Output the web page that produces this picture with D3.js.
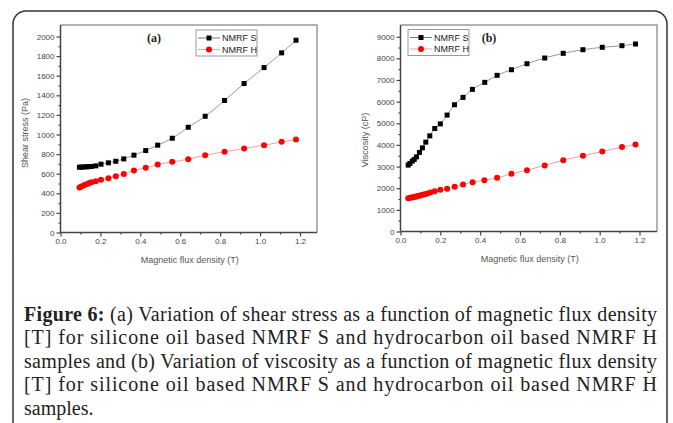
<!DOCTYPE html>
<html>
<head>
<meta charset="utf-8">
<script src="https://cdn.jsdelivr.net/npm/d3@7"></script>
<style>
  body { margin: 0; background: #fff; }
  svg { display: block; }
  .tick text { font-family: "Liberation Sans", Arial, sans-serif; font-size: 8px; fill: #444; }
</style>
</head>
<body>
<div id="fig"></div>
<script>
// Data
// (a) shear stress vs magnetic flux density
var fluxA = [0.095,0.105,0.117,0.13,0.142,0.155,0.177,0.203,0.24,0.277,0.317,0.368,0.427,0.487,0.56,0.64,0.725,0.822,0.92,1.02,1.108,1.18];
var shearS = [666,667,669,670,672,674,680,697,711,727,751,789,836,891,962,1074,1186,1347,1520,1683,1833,1962];
var shearH = [459,469,483,493,503,513,523,537,554,574,598,632,660,694,721,748,789,823,857,891,925,949];

// (b) viscosity vs magnetic flux density
var fluxBS = [0.0385,0.047,0.059,0.069,0.08,0.095,0.11,0.127,0.147,0.172,0.2,0.234,0.271,0.314,0.361,0.423,0.485,0.557,0.635,0.724,0.817,0.916,1.013,1.112,1.18];
var viscS = [3067,3144,3251,3329,3449,3652,3864,4128,4419,4760,4972,5379,5856,6197,6567,6891,7215,7474,7752,8015,8232,8399,8510,8584,8663];
var fluxBH = [0.0385,0.047,0.055,0.064,0.072,0.08,0.09,0.1,0.11,0.122,0.135,0.15,0.172,0.2,0.234,0.272,0.314,0.362,0.421,0.485,0.557,0.635,0.724,0.817,0.916,1.013,1.112,1.18];
var viscH = [1540,1554,1572,1586,1600,1619,1647,1665,1693,1725,1758,1804,1864,1924,1970,2063,2174,2280,2373,2479,2664,2835,3052,3297,3496,3700,3899,4024];

var xTicks = [0,0.2,0.4,0.6,0.8,1.0,1.2];
var xMinor = [0.1,0.3,0.5,0.7,0.9,1.1];
var yTicksA = d3.range(0, 2001, 200);
var yMinorA = d3.range(100, 2001, 200);
var yTicksB = d3.range(0, 9001, 1000);
var yMinorB = d3.range(500, 9001, 1000);

var seriesNames = ["NMRF S", "NMRF H"];
var caption = [
  "(a) Variation of shear stress as a function of magnetic flux density",
  "[T] for silicone oil based NMRF S and hydrocarbon oil based NMRF H",
  "samples and (b) Variation of viscosity as a function of magnetic flux density",
  "[T] for silicone oil based NMRF S and hydrocarbon oil based NMRF H",
  "samples."
];

var W = 673, H = 423;
var svg = d3.select("#fig").append("svg").attr("width", W).attr("height", H);

// outer rounded frame
svg.append("rect").attr("x", 13).attr("y", 11).attr("width", 654).attr("height", 430)
  .attr("rx", 13).attr("fill", "none").attr("stroke", "#333").attr("stroke-width", 1.5);

function panel(o){
  var x = d3.scaleLinear().domain([0, 1.2]).range([o.left, o.x12]);
  var y = d3.scaleLinear().domain([0, o.yTop]).range([o.bottom, o.yTopPx]);
  var g = svg.append("g");

  // top / right frame
  g.append("path")
    .attr("d", "M" + o.left + "," + o.top + "H" + o.right + "V" + o.bottom)
    .attr("fill", "none").attr("stroke", "#999").attr("stroke-width", 1.5);

  var gx = g.append("g").attr("transform", "translate(0," + o.bottom + ")")
    .call(d3.axisBottom(x).tickValues(xTicks).tickFormat(d3.format(".1f")).tickSize(4).tickPadding(2));
  g.append("g").attr("transform", "translate(0," + o.bottom + ")")
    .call(d3.axisBottom(x).tickValues(xMinor).tickFormat("").tickSize(2))
    .select(".domain").remove();
  var gy = g.append("g").attr("transform", "translate(" + o.left + ",0)")
    .call(d3.axisLeft(y).tickValues(o.yTicks).tickFormat(d3.format("d")).tickSize(4).tickPadding(2));
  g.append("g").attr("transform", "translate(" + o.left + ",0)")
    .call(d3.axisLeft(y).tickValues(o.yMinor).tickFormat("").tickSize(2))
    .select(".domain").remove();

  gx.select(".domain").attr("d", "M" + o.left + ",0H" + o.right);
  gy.select(".domain").attr("d", "M0," + o.bottom + "V" + o.top);
  g.selectAll(".domain").attr("stroke", "#444").attr("stroke-width", 1.5);
  g.selectAll(".tick line").attr("stroke", "#444").attr("stroke-width", 1.2);

  // axis titles
  g.append("text").attr("x", (o.left + o.right) / 2 + 1).attr("y", o.bottom + 30)
    .attr("text-anchor", "middle").attr("font-family", "Liberation Sans, Arial, sans-serif")
    .attr("font-size", 9).attr("fill", "#555").text("Magnetic flux density (T)");
  g.append("text").attr("transform", "translate(" + o.yTitleX + "," + o.yTitleY + ")rotate(-90)")
    .attr("text-anchor", "middle").attr("font-family", "Liberation Sans, Arial, sans-serif")
    .attr("font-size", 9).attr("fill", "#555").text(o.yTitle);

  var line = d3.line().x(function(d){ return x(d[0]); }).y(function(d){ return y(d[1]); }).curve(d3.curveMonotoneX);
  var dS = d3.zip(o.xS, o.yS), dH = d3.zip(o.xH, o.yH);

  g.append("path").datum(dS).attr("d", line).attr("fill", "none").attr("stroke", "#999").attr("stroke-width", 1);
  g.append("path").datum(dH).attr("d", line).attr("fill", "none").attr("stroke", "#f4a0a0").attr("stroke-width", 1);
  g.selectAll(".sq").data(dS).enter().append("rect")
    .attr("x", function(d){ return x(d[0]) - 2.5; }).attr("y", function(d){ return y(d[1]) - 2.5; })
    .attr("width", 5).attr("height", 5).attr("fill", "#000");
  g.selectAll(".ci").data(dH).enter().append("circle")
    .attr("cx", function(d){ return x(d[0]); }).attr("cy", function(d){ return y(d[1]); })
    .attr("r", 3).attr("fill", "#f00");

  // legend
  var lg = g.append("g").attr("transform", "translate(" + o.legX + "," + o.legY + ")");
  lg.append("rect").attr("width", 61).attr("height", 26).attr("fill", "#fff").attr("stroke", "#999").attr("stroke-width", 1);
  seriesNames.forEach(function(name, i){
    var yy = 8 + i * 11.5;
    lg.append("line").attr("x1", 2).attr("x2", 24).attr("y1", yy).attr("y2", yy)
      .attr("stroke", i ? "#f4a0a0" : "#777").attr("stroke-width", 1);
    if (i === 0) lg.append("rect").attr("x", 10.5).attr("y", yy - 2.5).attr("width", 5).attr("height", 5).attr("fill", "#000");
    else lg.append("circle").attr("cx", 13).attr("cy", yy).attr("r", 3).attr("fill", "#f00");
    lg.append("text").attr("x", 26).attr("y", yy + 3).attr("font-family", "Liberation Sans, Arial, sans-serif")
      .attr("font-size", 9).attr("fill", "#222").text(name);
  });

  g.append("text").attr("x", o.tagX).attr("y", 42).attr("text-anchor", "middle")
    .attr("font-family", "Liberation Serif, Times New Roman, serif").attr("font-weight", "bold")
    .attr("font-size", 12).attr("fill", "#222").text(o.tag);
}

panel({left: 60.5, right: 317, top: 25, bottom: 232.5, x12: 300, yTop: 2000, yTopPx: 36.5,
  yTicks: yTicksA, yMinor: yMinorA, yTitle: "Shear stress (Pa)", yTitleX: 28, yTitleY: 133,
  xS: fluxA, yS: shearS, xH: fluxA, yH: shearH, legX: 196, legY: 30, tag: "(a)", tagX: 154});

panel({left: 400.5, right: 657, top: 25, bottom: 231.5, x12: 639.5, yTop: 9000, yTopPx: 36.7,
  yTicks: yTicksB, yMinor: yMinorB, yTitle: "Viscosity (cP)", yTitleX: 368, yTitleY: 140,
  xS: fluxBS, yS: viscS, xH: fluxBH, yH: viscH, legX: 408, legY: 29.5, tag: "(b)", tagX: 489});

// caption
var cap = svg.append("g").attr("font-family", "Liberation Serif, Times New Roman, serif")
  .attr("font-size", 20).attr("fill", "#222");
caption.forEach(function(t, i){
  var tx = cap.append("text").attr("x", 24).attr("y", 321 + i * 23.4);
  if (i === 0) tx.append("tspan").attr("font-weight", "bold").text("Figure 6: ");
  tx.append("tspan").text(t);
  if (i < caption.length - 1) tx.attr("textLength", 633).attr("lengthAdjust", "spacing");
});
</script>
</body>
</html>
